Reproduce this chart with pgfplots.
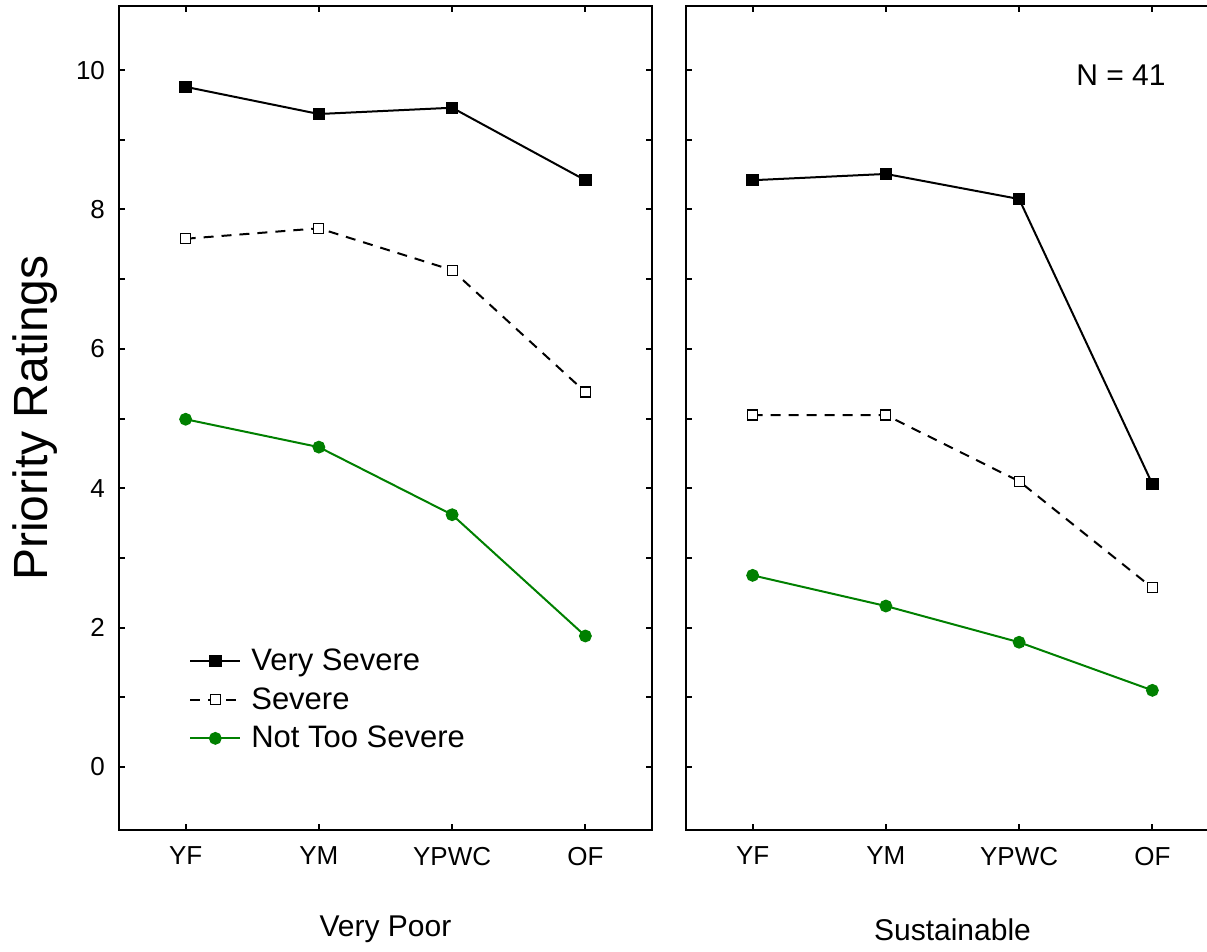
\documentclass[border=0pt]{standalone}
\usepackage{fontspec}
\setmainfont{Liberation Sans}
\usepackage{pgfplots}
\pgfplotsset{compat=1.18}
\definecolor{dgreen}{RGB}{0,128,0}

\begin{document}
\begin{tikzpicture}
\useasboundingbox (0,0) rectangle (603.5bp,476bp);
\pgfplotsset{
  panel/.style={
    at={(#1,61bp)}, anchor=south west,
    width=266.5bp, height=412bp, scale only axis,
    xmin=-0.5, xmax=3.5, ymin=-0.904, ymax=10.92,
    xtick={0,1,2,3}, xticklabels={YF,YM,YPWC,OF},
    ytick={0,2,...,10}, minor ytick={1,3,...,9},
    tick align=inside,
    major tick length=3bp, minor tick length=3bp,
    axis line style={line width=1bp},
    every tick/.style={black, line width=1bp},
    tick label style={font=\fontsize{13bp}{15bp}\selectfont},
    xticklabel style={yshift=-5bp},
    yticklabel style={xshift=-3.5bp},
    xlabel style={at={(axis description cs:0.5,-0.121)}, anchor=center, font=\fontsize{15bp}{18bp}\selectfont},
    /pgf/number format/assume math mode=true,
    clip=false,
  },
  vs/.style={black, line width=1bp, mark=square*, mark size=2.6bp, mark options={solid}},
  sv/.style={black, line width=1bp, dash pattern=on 5bp off 4bp, mark=square*, mark size=2.5bp, mark options={solid, fill=white, draw=black, line width=0.6bp}},
  nts/.style={dgreen, line width=1bp, mark=*, mark size=2.7bp, mark options={solid, fill=dgreen}},
}
\begin{axis}[panel=59.5bp,
  xlabel={Very Poor},
  ylabel={Priority Ratings},
  ylabel style={at={(axis description cs:-0.158,0.5)}, anchor=center, font=\fontsize{24bp}{28bp}\selectfont},
  legend style={draw=none, fill=none, at={(axis description cs:0.12,0.23)}, anchor=north west,
    font=\fontsize{15.5bp}{18bp}\selectfont, row sep=3bp,
    nodes={inner xsep=5bp}},
  legend cell align=left,
  legend image code/.code={\draw[mark repeat=2,mark phase=2,#1] plot coordinates {(0bp,0bp) (12.5bp,0bp) (25bp,0bp)};},
]
\addplot[vs] coordinates {(0,9.76) (1,9.37) (2,9.46) (3,8.42)};
\addlegendentry{Very Severe}
\addplot[sv] coordinates {(0,7.58) (1,7.73) (2,7.13) (3,5.38)};
\addlegendentry{Severe}
\addplot[nts] coordinates {(0,4.99) (1,4.59) (2,3.62) (3,1.88)};
\addlegendentry{Not Too Severe}
\end{axis}
\begin{axis}[panel=343bp,
  xlabel={Sustainable},
  yticklabels={},
]
\addplot[vs] coordinates {(0,8.42) (1,8.51) (2,8.15) (3,4.06)};
\addplot[sv] coordinates {(0,5.05) (1,5.05) (2,4.10) (3,2.57)};
\addplot[nts] coordinates {(0,2.75) (1,2.31) (2,1.79) (3,1.10)};
\node[font=\fontsize{15bp}{18bp}\selectfont] at (axis description cs:0.816,0.916) {N = 41};
\end{axis}
\end{tikzpicture}
\end{document}
